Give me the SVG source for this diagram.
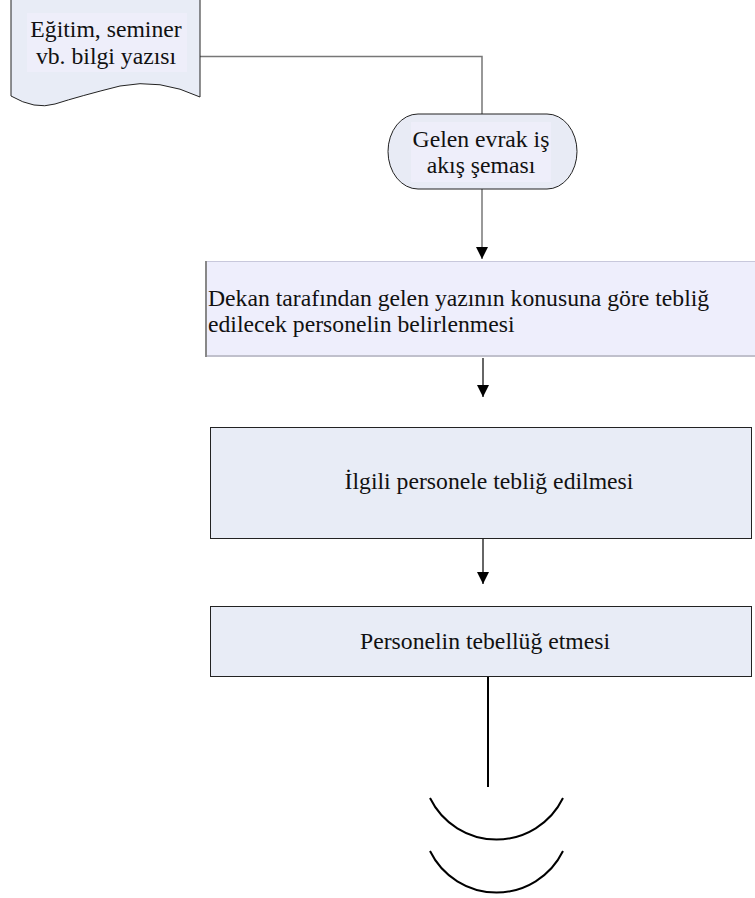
<svg xmlns="http://www.w3.org/2000/svg" width="755" height="898" viewBox="0 0 755 898">
<defs>
<style>
text{font-family:'Liberation Serif','Times New Roman',serif;font-size:23.7px;fill:#111}
.c{text-anchor:middle}
.conn{fill:none;stroke-width:1.5}
.box{fill:#e8ecf6;stroke:#222;stroke-width:1}
</style>
<marker id="ah" markerWidth="12" markerHeight="12" refX="12" refY="6" orient="auto" markerUnits="userSpaceOnUse" viewBox="0 0 12 12">
<path d="M0,0 L12,6 L0,12 Z" fill="#000"/>
</marker>
</defs>
<rect width="755" height="898" fill="#fff"/>
<g id="connectors">
<path class="conn" d="M200,56.5 H482 V114" stroke="#777"/>
<path class="conn" d="M482,189 V259" stroke="#777" marker-end="url(#ah)"/>
<path class="conn" d="M483,358 V397" stroke="#333" marker-end="url(#ah)"/>
<path class="conn" d="M483,539 V584" stroke="#333" marker-end="url(#ah)"/>
<path d="M488,677 V787" fill="none" stroke="#000" stroke-width="2"/>
</g>
<g id="doc">
<path d="M11,-1 H200 V97 Q160,78 120,86 Q80,96 55,104 Q35,110 11,96 Z" fill="#e8ecf6" stroke="#222" stroke-width="1"/>
<rect x="27" y="13" width="160" height="59" fill="#eeeefa"/>
<text class="c" x="106" y="37">Eğitim, seminer</text>
<text class="c" x="106" y="64">vb. bilgi yazısı</text>
</g>
<g id="terminal">
<path d="M418,114 H547 A30,37.5 0 0 1 547,189 H418 A30,37.5 0 0 1 418,114 Z" fill="#e8ebf5" stroke="#222" stroke-width="1"/>
<rect x="411" y="122" width="140" height="60" fill="#eeeefa"/>
<text class="c" x="481" y="147">Gelen evrak iş</text>
<text class="c" x="481" y="173">akış şeması</text>
</g>
<g id="step1">
<rect x="205" y="261" width="552" height="96" fill="#eeeefc"/>
<line x1="205" y1="261.5" x2="755" y2="261.5" stroke="#c8c8dc" stroke-width="1"/>
<line x1="205" y1="356" x2="755" y2="356" stroke="#c0c0cc" stroke-width="2"/>
<line x1="206" y1="261" x2="206" y2="357" stroke="#888" stroke-width="2"/>
<text x="208" y="306">Dekan tarafından gelen yazının konusuna göre tebliğ</text>
<text x="208" y="332">edilecek personelin belirlenmesi</text>
</g>
<g id="step2">
<rect class="box" x="210.5" y="427.5" width="541" height="111"/>
<text class="c" x="489" y="489">İlgili personele tebliğ edilmesi</text>
</g>
<g id="step3">
<rect class="box" x="210.5" y="606.5" width="541" height="70"/>
<text class="c" x="485" y="649">Personelin tebellüğ etmesi</text>
</g>
<g id="end">
<path d="M430,798 A74,74 0 0 0 563,798" fill="none" stroke="#000" stroke-width="2"/>
<path d="M430,851 A74,74 0 0 0 563,851" fill="none" stroke="#000" stroke-width="2"/>
</g>
</svg>
